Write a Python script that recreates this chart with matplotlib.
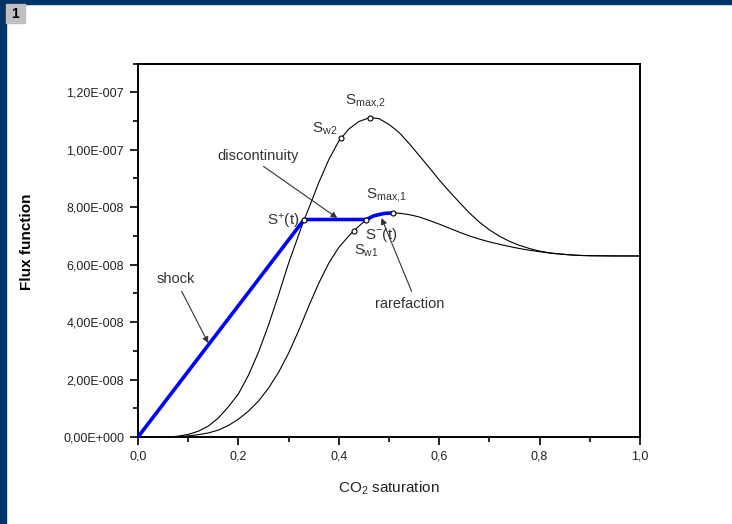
import matplotlib
matplotlib.use("Agg")
import matplotlib.pyplot as plt
from matplotlib.ticker import MultipleLocator, FuncFormatter
from matplotlib.patches import Rectangle

plt.rcParams['font.family'] = ['Liberation Sans', 'DejaVu Sans']
plt.rcParams['mathtext.fontset'] = 'custom'
plt.rcParams['mathtext.rm'] = 'Liberation Sans'
plt.rcParams['mathtext.it'] = 'Liberation Sans'

# flux curves (y in units of 1e-8)
sat_2 = [0.0, 0.06, 0.08, 0.10, 0.12, 0.14, 0.16, 0.18, 0.20, 0.22, 0.24, 0.26,
         0.28, 0.30, 0.331, 0.34, 0.36, 0.38, 0.40, 0.42, 0.44, 0.462, 0.48,
         0.50, 0.52, 0.54, 0.56, 0.58, 0.60, 0.62, 0.64, 0.66, 0.68, 0.70, 0.72,
         0.74, 0.76, 0.78, 0.80, 0.82, 0.84, 0.86, 0.88, 0.90, 0.95, 1.0]
flux_2 = [0.0, 0.0, 0.03, 0.09, 0.2, 0.38, 0.66, 1.05, 1.5, 2.15, 2.95, 3.9,
          4.95, 6.05, 7.57, 7.95, 8.85, 9.65, 10.3, 10.72, 10.98, 11.12, 11.08,
          10.88, 10.6, 10.22, 9.8, 9.38, 8.95, 8.55, 8.17, 7.8, 7.48, 7.21, 6.99,
          6.81, 6.67, 6.56, 6.47, 6.41, 6.37, 6.34, 6.32, 6.31, 6.30, 6.30]

sat_1 = [0.0, 0.06, 0.08, 0.10, 0.12, 0.14, 0.16, 0.18, 0.20, 0.22, 0.24, 0.26,
         0.28, 0.30, 0.32, 0.34, 0.36, 0.38, 0.40, 0.42, 0.43, 0.44, 0.455, 0.47,
         0.49, 0.507, 0.52, 0.54, 0.56, 0.58, 0.60, 0.62, 0.64, 0.66, 0.68, 0.70,
         0.72, 0.74, 0.76, 0.78, 0.80, 0.82, 0.84, 0.86, 0.88, 0.90, 1.0]
flux_1 = [0.0, 0.0, 0.01, 0.04, 0.08, 0.14, 0.24, 0.4, 0.62, 0.9, 1.25, 1.7,
          2.25, 2.92, 3.7, 4.55, 5.35, 6.05, 6.6, 7.0, 7.18, 7.34, 7.57, 7.7,
          7.78, 7.80, 7.79, 7.74, 7.66, 7.54, 7.41, 7.27, 7.13, 7.0, 6.89, 6.79,
          6.71, 6.63, 6.56, 6.5, 6.45, 6.4, 6.37, 6.34, 6.32, 6.31, 6.30]

# solution path: shock, discontinuity, rarefaction
path_sat = [0.0, 0.331, 0.455, 0.47, 0.49, 0.507]
path_flux = [0.0, 7.57, 7.57, 7.7, 7.78, 7.80]

# marked states: S+, S-, Sw1, Smax1, Sw2, Smax2
pt_sat = [0.331, 0.455, 0.430, 0.507, 0.405, 0.462]
pt_flux = [7.57, 7.57, 7.18, 7.80, 10.41, 11.12]

scale = 1e-8

fig = plt.figure(figsize=(7.32, 5.24), dpi=100)
fig.patches.append(Rectangle((0, 0), 6 / 732, 1, transform=fig.transFigure,
                             color='#003366', zorder=0))
fig.patches.append(Rectangle((0, 1 - 4 / 524), 1, 4 / 524, transform=fig.transFigure,
                             color='#003366', zorder=0))
fig.patches.append(Rectangle((6 / 732, 1 - 23 / 524), 19 / 732, 19 / 524,
                             transform=fig.transFigure, color='#c0c0c0', zorder=0))
fig.text(15.5 / 732, 1 - 13.5 / 524, '1', fontsize=10, fontweight='bold',
         ha='center', va='center')

ax = fig.add_axes([138 / 732, 1 - 437 / 524, 502 / 732, 373.5 / 524])

ax.plot(sat_2, [v * scale for v in flux_2], color='black', lw=0.8)
ax.plot(sat_1, [v * scale for v in flux_1], color='black', lw=0.8)
ax.plot(path_sat, [v * scale for v in path_flux], color='#0000ff', lw=2.6,
        solid_joinstyle='round', zorder=3)
ax.plot(pt_sat, [v * scale for v in pt_flux], 'o', ms=3.6, mfc='white',
        mec='black', mew=0.8, zorder=4)

ax.set_xlim(0, 1.0)
ax.set_ylim(0, 1.3e-7)
ax.xaxis.set_major_locator(MultipleLocator(0.2))
ax.xaxis.set_minor_locator(MultipleLocator(0.1))
ax.yaxis.set_major_locator(MultipleLocator(2e-8))
ax.yaxis.set_minor_locator(MultipleLocator(1e-8))


def fmt_x(v, pos):
    return f"{v:.1f}".replace('.', ',')


def fmt_y(v, pos):
    mant, ex = f"{v:.2E}".split('E')
    e = int(ex)
    sign = '+' if e >= 0 else '-'
    return f"{mant.replace('.', ',')}E{sign}{abs(e):03d}"


ax.xaxis.set_major_formatter(FuncFormatter(fmt_x))
ax.yaxis.set_major_formatter(FuncFormatter(fmt_y))
ax.tick_params(which='both', direction='out', top=False, right=False,
               labelsize=9, labelcolor='#222222', width=1.2)
ax.tick_params(which='major', length=6, pad=4)
ax.tick_params(which='minor', length=3.5)
for sp in ax.spines.values():
    sp.set_linewidth(1.4)

ax.set_xlabel('CO$_2$ saturation', fontsize=11, labelpad=12, color='#222222')
ax.set_ylabel('Flux function', fontsize=11, fontweight='bold')
ax.yaxis.set_label_coords(-0.207, 0.522)

txt = dict(fontsize=10.5, color='#333333', va='center', ha='left')
arr = dict(arrowstyle='-|>', color='#333333', lw=0.8, mutation_scale=9,
           shrinkA=0, shrinkB=0)

ax.text(0.159, 9.77e-8, 'discontinuity', **txt)
ax.annotate('', xy=(0.397, 7.62e-8), xytext=(0.25, 9.42e-8), arrowprops=arr)
ax.text(0.036, 5.51e-8, 'shock', **txt)
ax.annotate('', xy=(0.140, 3.27e-8), xytext=(0.087, 5.07e-8), arrowprops=arr)
ax.text(0.472, 4.64e-8, 'rarefaction', **txt)
ax.annotate('', xy=(0.485, 7.62e-8), xytext=(0.545, 5.07e-8), arrowprops=arr)

lab = dict(fontsize=11, color='#333333', va='baseline')
ax.text(0.321, 7.36e-8, 'S$^{+}$(t)', ha='right', **lab)
ax.text(0.453, 6.90e-8, 'S$^{-}$(t)', ha='left', **lab)
ax.text(0.430, 6.36e-8, 'S$_{\\mathregular{w1}}$', ha='left', fontsize=10.5,
        color='#333333', va='baseline')
ax.text(0.454, 8.30e-8, 'S$_{\\mathregular{max{,}1}}$', ha='left', **lab)
ax.text(0.346, 10.59e-8, 'S$_{\\mathregular{w2}}$', ha='left', **lab)
ax.text(0.412, 11.58e-8, 'S$_{\\mathregular{max{,}2}}$', ha='left', **lab)

fig.savefig('out.png', dpi=100)
